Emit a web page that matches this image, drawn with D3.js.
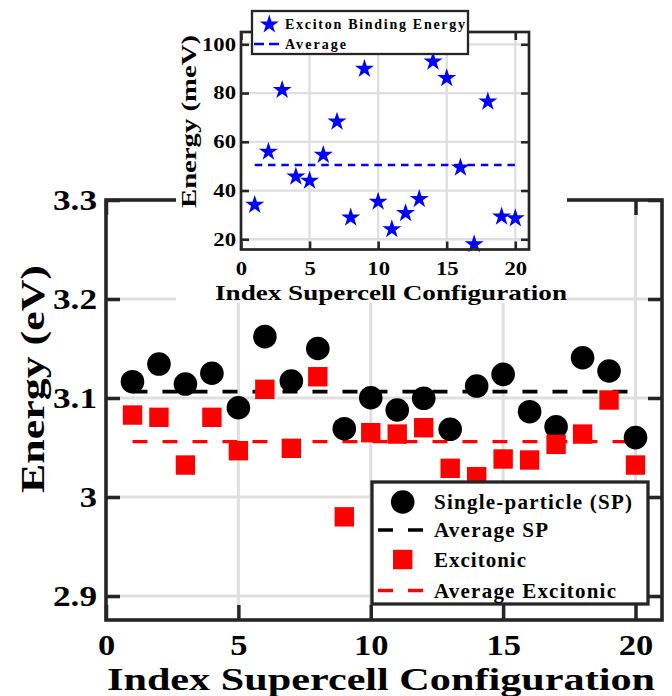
<!DOCTYPE html>
<html><head><meta charset="utf-8">
<script src="https://cdn.jsdelivr.net/npm/d3@7"></script>
<style>
body{margin:0;background:#fff}
svg{display:block}
text{font-family:"Liberation Serif",serif;font-weight:bold;fill:#000}
</style>
</head><body>
<svg id="chart" width="672" height="696"></svg>
<script>
// ---------------- data ----------------
const configIndex = [1,2,3,4,5,6,7,8,9,10,11,12,13,14,15,16,17,18,19,20];
const spEnergy = [3.1165,3.1343,3.1141,3.1250,3.0902,3.1620,3.1172,3.1500,3.0690,3.1003,
                  3.0879,3.0997,3.0684,3.1121,3.1239,3.0862,3.0710,3.1407,3.1273,3.0600];
const excEnergy = [3.0828,3.0805,3.0323,3.0805,3.0468,3.1088,3.0492,3.1215,2.9800,3.0650,
                   3.0636,3.0700,3.0290,3.0205,3.0384,3.0374,3.0532,3.0636,3.0980,3.0323];
const bindingEnergy = [34.1,55.9,81.25,45.7,44.0,54.6,68.25,28.9,89.9,35.4,
                       24.1,30.7,36.5,92.9,86.1,49.4,17.95,76.5,29.3,28.6];
const avgSP = 3.1065;
const avgExc = 3.056;
const avgBinding = 50.5;
const mainXTicks = [0,5,10,15,20];
const mainYTicks = [2.9,3.0,3.1,3.2,3.3];
const mainYTickLabels = ["2.9","3","3.1","3.2","3.3"];
const insetXTicks = [0,5,10,15,20];
const insetYTicks = [20,40,60,80,100];
const mainLegend = ["Single-particle (SP)","Average SP","Excitonic","Average Excitonic"];
const insetLegend = ["Exciton Binding Energy","Average"];
const xLabel = "Index Supercell Configuration";
const yLabelMain = "Energy (eV)";
const yLabelInset = "Energy (meV)";

// ---------------- setup ----------------
const svg = d3.select("#chart");
const AX = "#262626", GRID = "#dfdfdf";
const x = d3.scaleLinear().domain([0,21]).range([106,662]);
const y = d3.scaleLinear().domain([2.8758,3.3]).range([620,200]);

function starPath(R){
  const r = R*0.382, pts=[];
  for(let k=0;k<10;k++){
    const a = -Math.PI/2 + k*Math.PI/5, rr = k%2? r:R;
    pts.push([rr*Math.cos(a), rr*Math.sin(a)]);
  }
  return "M"+pts.map(p=>p[0].toFixed(2)+","+p[1].toFixed(2)).join("L")+"Z";
}
// width of a numeric label in the wide bold serif look
function numWidth(s, em){ let w=0; for(const c of s) w += (c==="."?0.319:0.575)*em; return w; }

// ---------------- main grid ----------------
const g = svg.append("g");
g.selectAll(".gx").data(mainXTicks.filter(d=>d>0)).join("line")
  .attr("x1",d=>x(d)).attr("x2",d=>x(d)).attr("y1",y.range()[0]).attr("y2",y.range()[1])
  .attr("stroke",GRID).attr("stroke-width",3);
g.selectAll(".gy").data(mainYTicks.filter(d=>d<3.3)).join("line")
  .attr("y1",d=>y(d)).attr("y2",d=>y(d)).attr("x1",x.range()[0]).attr("x2",x.range()[1])
  .attr("stroke",GRID).attr("stroke-width",3);

// average lines
g.append("line").attr("x1",x(configIndex[0])).attr("x2",x(configIndex[19]))
  .attr("y1",y(avgSP)).attr("y2",y(avgSP)).attr("stroke","#000").attr("stroke-width",3.6)
  .attr("stroke-dasharray","15,15");
g.append("line").attr("x1",x(configIndex[0])).attr("x2",x(configIndex[19]))
  .attr("y1",y(avgExc)).attr("y2",y(avgExc)).attr("stroke","#ff0000").attr("stroke-width",3.4)
  .attr("stroke-dasharray","15,15");

// markers
g.selectAll(".sp").data(configIndex).join("circle")
  .attr("cx",d=>x(d)).attr("cy",(d,i)=>y(spEnergy[i])).attr("r",11.8).attr("fill","#000");
g.selectAll(".ex").data(configIndex).join("rect")
  .attr("x",d=>x(d)-9.7).attr("y",(d,i)=>y(excEnergy[i])-9.7).attr("width",19.4).attr("height",19.4)
  .attr("fill","#ff0000");

// main axes
const axG = svg.append("g");
function styleAxis(sel, fs, em){
  sel.select(".domain").remove();
  sel.selectAll(".tick line").attr("stroke",AX).attr("stroke-width",3.5);
  sel.selectAll("text").attr("font-family","Liberation Serif").attr("font-weight","bold").attr("fill","#000")
    .attr("font-size",fs).attr("lengthAdjust","spacingAndGlyphs")
    .attr("textLength",function(){ const t=d3.select(this).text(); return t? numWidth(t,em):null; });
}
axG.append("g").attr("transform",`translate(0,${y.range()[0]})`)
  .call(d3.axisBottom(x).tickValues(mainXTicks).tickSize(-15).tickPadding(14).tickFormat(d3.format("d")))
  .call(styleAxis,29,30);
axG.append("g").attr("transform",`translate(0,${y.range()[1]})`)
  .call(d3.axisTop(x).tickValues(mainXTicks).tickSize(-15).tickFormat(""))
  .call(styleAxis,29,30);
axG.append("g").attr("transform",`translate(${x.range()[0]},0)`)
  .call(d3.axisLeft(y).tickValues(mainYTicks).tickSize(-14).tickPadding(9).tickFormat((d,i)=>mainYTickLabels[i]))
  .call(styleAxis,29,30);
axG.append("g").attr("transform",`translate(${x.range()[1]},0)`)
  .call(d3.axisRight(y).tickValues(mainYTicks).tickSize(-14).tickFormat(""))
  .call(styleAxis,29,30);
axG.append("rect").attr("x",x.range()[0]).attr("y",y.range()[1])
  .attr("width",x.range()[1]-x.range()[0]).attr("height",y.range()[0]-y.range()[1])
  .attr("fill","none").attr("stroke",AX).attr("stroke-width",3.6);

// main labels
svg.append("text").attr("x",381).attr("y",690).attr("text-anchor","middle")
  .attr("font-size",32.5).attr("textLength",548).attr("lengthAdjust","spacingAndGlyphs").text(xLabel);
svg.append("text").attr("transform","translate(44,379) rotate(-90)").attr("text-anchor","middle")
  .attr("font-size",33).attr("textLength",228).attr("lengthAdjust","spacingAndGlyphs").text(yLabelMain);

// main legend
const lg = svg.append("g");
lg.append("rect").attr("x",372).attr("y",482).attr("width",276).attr("height",122)
  .attr("fill","#fff").attr("stroke",AX).attr("stroke-width",3.3);
const legY = [502,530,559.5,590.5];
const legLens = [198,114,92,182];
lg.append("circle").attr("cx",402.7).attr("cy",legY[0]).attr("r",11.8).attr("fill","#000");
lg.append("line").attr("x1",378).attr("x2",423).attr("y1",legY[1]).attr("y2",legY[1])
  .attr("stroke","#000").attr("stroke-width",3.6).attr("stroke-dasharray","15,15");
lg.append("rect").attr("x",402.7-9.7).attr("y",legY[2]-9.7).attr("width",19.4).attr("height",19.4).attr("fill","#ff0000");
lg.append("line").attr("x1",378).attr("x2",423).attr("y1",legY[3]).attr("y2",legY[3])
  .attr("stroke","#ff0000").attr("stroke-width",3.4).attr("stroke-dasharray","15,15");
lg.selectAll(".lt").data(mainLegend).join("text")
  .attr("x",434).attr("y",(d,i)=>legY[i]+7).attr("font-size",21)
  .attr("textLength",(d,i)=>legLens[i]).attr("lengthAdjust","spacing").text(d=>d);

// ---------------- inset ----------------
const ix = d3.scaleLinear().domain([0,21]).range([241,529]);
const iy = d3.scaleLinear().domain([15.8,105.05]).range([249.5,32]);
const ins = svg.append("g");
ins.append("rect").attr("x",176).attr("y",0).attr("width",391).attr("height",303).attr("fill","#fff");
ins.selectAll(".igx").data(insetXTicks.filter(d=>d>0)).join("line")
  .attr("x1",d=>ix(d)).attr("x2",d=>ix(d)).attr("y1",iy.range()[0]).attr("y2",iy.range()[1])
  .attr("stroke",GRID).attr("stroke-width",2.3);
ins.selectAll(".igy").data(insetYTicks).join("line")
  .attr("y1",d=>iy(d)).attr("y2",d=>iy(d)).attr("x1",ix.range()[0]).attr("x2",ix.range()[1])
  .attr("stroke",GRID).attr("stroke-width",2.3);
ins.append("line").attr("x1",ix(configIndex[0])).attr("x2",ix(configIndex[19]))
  .attr("y1",iy(avgBinding)).attr("y2",iy(avgBinding)).attr("stroke","#0000ff").attr("stroke-width",2.4)
  .attr("stroke-dasharray","7.5,5.8");
ins.selectAll(".st").data(configIndex).join("path")
  .attr("d",starPath(10)).attr("transform",(d,i)=>`translate(${ix(d)},${iy(bindingEnergy[i])})`)
  .attr("fill","#0000ff");

function styleInset(sel){
  sel.select(".domain").remove();
  sel.selectAll(".tick line").attr("stroke",AX).attr("stroke-width",2.6);
  sel.selectAll("text").attr("font-family","Liberation Serif").attr("font-weight","bold").attr("fill","#000")
    .attr("font-size",18).attr("lengthAdjust","spacingAndGlyphs")
    .attr("textLength",function(){ const t=d3.select(this).text(); return t? numWidth(t,19.7):null; });
}
ins.append("g").attr("transform",`translate(0,${iy.range()[0]})`)
  .call(d3.axisBottom(ix).tickValues(insetXTicks).tickSize(-8).tickPadding(13).tickFormat(d3.format("d")))
  .call(styleInset);
ins.append("g").attr("transform",`translate(0,${iy.range()[1]})`)
  .call(d3.axisTop(ix).tickValues(insetXTicks).tickSize(-8).tickFormat("")).call(styleInset);
ins.append("g").attr("transform",`translate(${ix.range()[0]},0)`)
  .call(d3.axisLeft(iy).tickValues(insetYTicks).tickSize(-8).tickPadding(5).tickFormat(d3.format("d")))
  .call(styleInset);
ins.append("g").attr("transform",`translate(${ix.range()[1]},0)`)
  .call(d3.axisRight(iy).tickValues(insetYTicks).tickSize(-8).tickFormat("")).call(styleInset);
ins.append("rect").attr("x",ix.range()[0]).attr("y",iy.range()[1])
  .attr("width",ix.range()[1]-ix.range()[0]).attr("height",iy.range()[0]-iy.range()[1])
  .attr("fill","none").attr("stroke",AX).attr("stroke-width",2.7);

ins.append("text").attr("x",391).attr("y",299.5).attr("text-anchor","middle")
  .attr("font-size",21).attr("textLength",352).attr("lengthAdjust","spacingAndGlyphs").text(xLabel);
ins.append("text").attr("transform","translate(196,121.5) rotate(-90)").attr("text-anchor","middle")
  .attr("font-size",22).attr("textLength",173).attr("lengthAdjust","spacingAndGlyphs").text(yLabelInset);

// inset legend
const il = ins.append("g");
il.append("rect").attr("x",252).attr("y",11).attr("width",216).attr("height",43)
  .attr("fill","#fff").attr("stroke",AX).attr("stroke-width",2.3);
il.append("path").attr("d",starPath(10)).attr("transform","translate(269.3,24.5)").attr("fill","#0000ff");
il.append("line").attr("x1",254).attr("x2",279).attr("y1",44).attr("y2",44)
  .attr("stroke","#0000ff").attr("stroke-width",2.4).attr("stroke-dasharray","10,5");
il.selectAll(".ilt").data(insetLegend).join("text")
  .attr("x",285).attr("y",(d,i)=>[29,48.5][i]).attr("font-size",14)
  .attr("textLength",(d,i)=>[180,61][i]).attr("lengthAdjust","spacing").text(d=>d);
</script>
</body></html>
